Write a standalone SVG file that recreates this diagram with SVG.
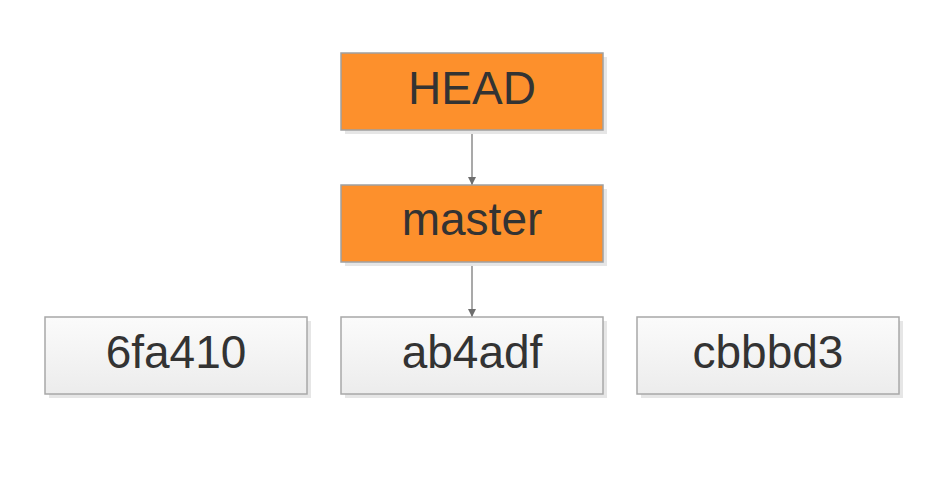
<svg xmlns="http://www.w3.org/2000/svg" width="948" height="490" viewBox="0 0 948 490">
<style>
.sh{fill:#e6e6e6}
.or{fill:#fd902c;stroke:#a0a0a0;stroke-width:1.5}
.gr{fill:url(#g);stroke:#a8a8a8;stroke-width:1.5}
text{font-family:"Liberation Sans",Arial,sans-serif;font-size:46px;fill:#333;text-anchor:middle}
.ed{stroke:#8c8c8c;stroke-width:1.5;fill:none;marker-end:url(#a)}
</style>
<defs>
<linearGradient id="g" x1="0" y1="0" x2="0" y2="1"><stop offset="0" stop-color="#fbfbfb"/><stop offset="1" stop-color="#ececec"/></linearGradient>
<marker id="a" viewBox="0 0 10 10" refX="10" refY="5" markerWidth="8" markerHeight="8" markerUnits="userSpaceOnUse" orient="auto"><path d="M0,0 L10,5 L0,10 z" fill="#6e6e6e"/></marker>
</defs>
<rect width="948" height="490" fill="#fff"/>
<g id="edges">
<line class="ed" x1="472" y1="131" x2="472" y2="185"/>
<line class="ed" x1="472" y1="263" x2="472" y2="317"/>
</g>
<g id="HEAD"><rect class="sh" x="345" y="57" width="262" height="77"/><rect class="or" x="341" y="53" width="262" height="77"/><text x="472" y="104">HEAD</text></g>
<g id="master"><rect class="sh" x="345" y="189" width="262" height="77"/><rect class="or" x="341" y="185" width="262" height="77"/><text x="472" y="235">master</text></g>
<g id="c6fa410"><rect class="sh" x="49" y="321" width="262" height="77"/><rect class="gr" x="45" y="317" width="262" height="77"/><text x="176" y="368">6fa410</text></g>
<g id="cab4adf"><rect class="sh" x="345" y="321" width="262" height="77"/><rect class="gr" x="341" y="317" width="262" height="77"/><text x="472" y="368">ab4adf</text></g>
<g id="ccbbbd3"><rect class="sh" x="641" y="321" width="262" height="77"/><rect class="gr" x="637" y="317" width="262" height="77"/><text x="768" y="368">cbbbd3</text></g>
</svg>
